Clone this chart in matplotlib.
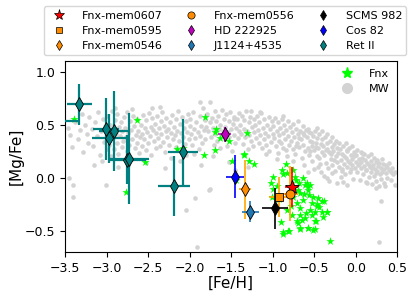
import numpy as np
import matplotlib
matplotlib.use('Agg')
import matplotlib.pyplot as plt
from matplotlib.lines import Line2D

# Milky Way comparison sample
mw_feh = [-3.47, -3.44, -3.42, -3.45, -3.41, -3.40, -3.38, -3.35, -3.32, -3.30, -3.28, -3.26, -3.24, -3.22, -3.21,
          -3.18, -3.16, -3.14, -3.12, -3.10, -3.08, -3.07, -3.05, -3.03, -3.02, -3.01, -3.00, -3.15, -3.06,
          -2.99, -2.98, -2.97, -2.96, -2.95, -2.94, -2.93, -2.92, -2.91, -2.90, -2.89, -2.88, -2.87, -2.86, -2.85, -2.84, -2.83, -2.82, -2.81, -2.80, -2.86, -2.90,
          -2.79, -2.78, -2.77, -2.76, -2.75, -2.74, -2.73, -2.72, -2.71, -2.70, -2.69, -2.68, -2.67, -2.66, -2.65, -2.64, -2.63, -2.62, -2.61, -2.60, -2.70, -2.74,
          -2.59, -2.58, -2.57, -2.56, -2.55, -2.54, -2.53, -2.52, -2.51, -2.50, -2.49, -2.48, -2.47, -2.46, -2.45, -2.44, -2.43, -2.42, -2.41, -2.40, -2.52, -2.45,
          -2.39, -2.38, -2.37, -2.36, -2.35, -2.34, -2.33, -2.32, -2.31, -2.30, -2.29, -2.28, -2.27, -2.26, -2.25, -2.24, -2.23, -2.22, -2.21, -2.20, -2.30, -2.36,
          -2.19, -2.18, -2.17, -2.16, -2.15, -2.14, -2.13, -2.12, -2.11, -2.10, -2.09, -2.08, -2.07, -2.06, -2.05, -2.04, -2.03, -2.02, -2.01, -2.00, -2.12, -2.05,
          -1.99, -1.98, -1.97, -1.96, -1.95, -1.94, -1.93, -1.92, -1.91, -1.90, -1.89, -1.88, -1.87, -1.86, -1.85, -1.84, -1.83, -1.82, -1.81, -1.80, -1.95, -1.86, -1.87,
          -1.79, -1.78, -1.77, -1.76, -1.75, -1.74, -1.73, -1.72, -1.71, -1.70, -1.69, -1.68, -1.67, -1.66, -1.65, -1.64, -1.63, -1.62, -1.61, -1.60, -1.76, -1.72,
          -1.59, -1.58, -1.57, -1.56, -1.55, -1.54, -1.53, -1.52, -1.51, -1.50, -1.49, -1.48, -1.47, -1.46, -1.45, -1.44, -1.43, -1.42, -1.41, -1.40, -1.52, -1.45, -1.47,
          -1.39, -1.38, -1.37, -1.36, -1.35, -1.34, -1.33, -1.32, -1.31, -1.30, -1.29, -1.28, -1.27, -1.26, -1.25, -1.24, -1.23, -1.22, -1.21, -1.20, -1.30, -1.26,
          -1.19, -1.18, -1.17, -1.16, -1.15, -1.14, -1.13, -1.12, -1.11, -1.10, -1.09, -1.08, -1.07, -1.06, -1.05, -1.04, -1.03, -1.02, -1.01, -1.00, -1.15, -1.08,
          -0.99, -0.98, -0.97, -0.96, -0.95, -0.94, -0.93, -0.92, -0.91, -0.90, -0.89, -0.88, -0.87, -0.86, -0.85, -0.84, -0.83, -0.82, -0.81, -0.80, -0.95, -0.88, -0.92, -0.84,
          -0.79, -0.78, -0.77, -0.76, -0.75, -0.74, -0.73, -0.72, -0.71, -0.70, -0.69, -0.68, -0.67, -0.66, -0.65, -0.64, -0.63, -0.62, -0.61, -0.60, -0.75, -0.68, -0.72, -0.64,
          -0.59, -0.58, -0.57, -0.56, -0.55, -0.54, -0.53, -0.52, -0.51, -0.50, -0.49, -0.48, -0.47, -0.46, -0.45, -0.44, -0.43, -0.42, -0.41, -0.40, -0.55, -0.48, -0.52, -0.44,
          -0.39, -0.38, -0.37, -0.36, -0.35, -0.34, -0.33, -0.32, -0.31, -0.30, -0.29, -0.28, -0.27, -0.26, -0.25, -0.24, -0.23, -0.22, -0.21, -0.20, -0.36, -0.30, -0.26,
          -0.19, -0.18, -0.17, -0.16, -0.15, -0.14, -0.13, -0.12, -0.11, -0.10, -0.09, -0.08, -0.07, -0.06, -0.05, -0.04, -0.03, -0.02, -0.01, 0.00, -0.14, -0.07,
          0.01, 0.02, 0.03, 0.04, 0.05, 0.06, 0.07, 0.08, 0.09, 0.10, 0.11, 0.12, 0.13, 0.14, 0.15, 0.16, 0.17, 0.18, 0.19, 0.20,
          0.21, 0.22, 0.23, 0.24, 0.25, 0.26, 0.27, 0.28, 0.29, 0.30, 0.31, 0.32, 0.33, 0.34, 0.36, 0.38, 0.40, 0.42, 0.45, 0.48, 0.30, 0.28,
          -0.58, -0.50, -0.45, -0.38, -0.35, -0.32, -0.28, -0.22, -0.18, -0.15, -0.12, -0.10, -0.05, 0.02, 0.06, 0.10, 0.14, 0.18, 0.22, 0.26,
          0.32, 0.36, 0.40, 0.44, 0.47, 0.35, 0.25, -0.62, -0.56, -0.46, -0.40, -0.34, -0.28, -0.24, -0.10, -0.02, 0.08, 0.12, 0.04, -0.06,
          -0.16, -0.20, -0.42, 0.16, 0.20, 0.24, 0.28, 0.34, 0.38, 0.42]
mw_mgfe = [0.47, 0.40, 0.29, 0.00, -0.07, -0.18, 0.52, 0.36, 0.45, 0.60, 0.24, 0.50, 0.41, 0.33, 0.57,
           0.46, 0.30, 0.52, 0.39, 0.62, 0.21, 0.44, 0.55, 0.34, 0.49, -0.07, 0.27, 0.12, 0.16,
           0.58, 0.42, 0.31, 0.50, 0.20, 0.63, 0.37, 0.46, 0.27, 0.54, 0.41, 0.33, 0.60, 0.22, 0.48, 0.39, 0.52, 0.29, 0.44, 0.35, 0.10, 0.66,
           0.57, 0.47, 0.38, 0.25, 0.62, 0.42, 0.31, 0.53, 0.45, 0.18, 0.36, 0.58, 0.49, 0.28, 0.40, 0.33, 0.55, 0.44, 0.23, 0.38, 0.65, 0.12,
           0.50, 0.41, 0.30, 0.59, 0.36, 0.47, 0.26, 0.54, 0.43, 0.33, 0.61, 0.39, 0.48, 0.21, 0.56, 0.45, 0.35, 0.51, 0.28, 0.42, 0.14, 0.66,
           0.58, 0.37, 0.47, 0.30, 0.53, 0.41, 0.62, 0.34, 0.49, 0.24, 0.44, 0.56, 0.38, 0.46, 0.31, 0.52, 0.42, 0.19, 0.59, 0.36, 0.09, 0.67,
           0.48, 0.40, 0.55, 0.29, 0.44, 0.63, 0.35, 0.51, 0.42, 0.26, 0.57, 0.38, 0.47, 0.32, 0.53, -0.30, 0.43, 0.60, 0.36, 0.49, 0.16, 0.21,
           0.55, 0.41, 0.31, 0.62, 0.46, 0.37, -0.19, 0.52, -0.65, 0.43, 0.27, 0.58, 0.39, 0.49, 0.33, 0.66, 0.45, 0.54, 0.36, 0.48, 0.22, 0.12, 0.71,
           0.60, 0.44, -0.12, 0.52, 0.71, 0.38, 0.56, 0.47, 0.31, 0.63, 0.41, 0.53, 0.35, 0.58, 0.46, 0.28, 0.50, 0.40, 0.64, 0.44, -0.11, 0.20,
           0.55, 0.36, 0.48, 0.60, 0.30, 0.43, 0.53, 0.38, 0.62, 0.46, 0.25, 0.51, 0.40, 0.57, 0.33, 0.47, 0.55, 0.37, 0.44, 0.61, 0.15, 0.07, 0.55,
           0.50, 0.41, 0.58, 0.32, 0.46, 0.54, 0.38, 0.63, 0.44, 0.27, 0.52, 0.40, 0.57, 0.35, 0.48, 0.30, 0.55, 0.43, 0.50, 0.37, 0.10, 0.63,
           0.58, 0.45, 0.33, 0.52, 0.40, 0.61, 0.28, 0.47, 0.36, 0.55, 0.42, 0.31, 0.50, 0.39, 0.57, 0.25, 0.46, 0.34, 0.53, 0.41, 0.62, 0.22,
           0.49, 0.37, 0.56, 0.30, 0.44, 0.52, 0.23, 0.40, 0.47, 0.33, 0.55, 0.42, 0.28, 0.50, 0.36, 0.45, 0.20, 0.53, 0.39, 0.31, 0.18, 0.58, 0.35, 0.26,
           0.48, 0.35, 0.43, 0.27, 0.51, 0.38, 0.22, 0.46, 0.33, 0.41, 0.53, 0.29, 0.44, 0.36, 0.19, 0.49, 0.31, 0.40, 0.25, 0.45, 0.16, 0.37, 0.30, 0.42,
           0.38, 0.28, 0.46, 0.21, 0.35, 0.42, 0.30, 0.16, 0.39, 0.26, 0.44, 0.33, 0.20, 0.37, 0.28, 0.41, 0.13, 0.32, 0.24, 0.36, 0.25, 0.29, 0.34, 0.19,
           0.30, 0.21, 0.38, 0.14, 0.27, 0.33, 0.09, 0.24, 0.35, 0.18, 0.29, 0.12, 0.25, 0.32, 0.06, 0.20, 0.28, 0.15, 0.23, 0.10, 0.26, 0.22, 0.17,
           0.27, 0.17, 0.08, 0.22, 0.30, 0.13, 0.03, 0.19, 0.25, 0.10, 0.16, 0.28, 0.05, 0.21, 0.12, 0.18, -0.01, 0.24, 0.09, 0.15, 0.20, 0.14,
           0.21, 0.05, 0.12, 0.18, -0.02, 0.09, 0.15, 0.23, 0.03, 0.11, 0.17, -0.04, 0.07, 0.14, 0.20, 0.01, 0.10, 0.16, 0.05, -0.06,
           0.12, 0.02, 0.08, 0.15, -0.03, 0.06, 0.11, -0.08, 0.03, 0.09, -0.01, 0.05, 0.13, -0.05, 0.04, 0.00, 0.07, -0.02, 0.03, -0.07, -0.22, -0.61,
           0.05, 0.08, 0.10, 0.02, 0.00, -0.03, 0.04, -0.05, 0.01, -0.04, 0.33, -0.07, 0.30, 0.26, 0.24, 0.22, -0.05, 0.22, 0.19, 0.17,
           0.18, 0.12, 0.14, 0.09, 0.05, -0.08, -0.10, 0.12, 0.43, 0.47, 0.44, 0.41, 0.38, 0.35, 0.26, 0.20, 0.19, 0.07, 0.13, 0.08,
           0.06, 0.33, 0.05, 0.12, 0.09, 0.04, 0.14, 0.08, 0.10, 0.05]

# Fornax stars
fnx_feh = [-3.39, -2.64, -2.54, -2.765, -2.155, -2.075, -1.83, -1.81, -1.70, -1.68, -1.64, -1.53, -1.70, -1.49, -1.44,
           -1.31, -1.34, -1.35, -1.28, -1.23,
           -0.84, -1.00, -1.02, -0.89, -0.87, -0.83, -0.75, -0.73, -0.68, -0.61, -0.55, -0.56, -0.51, -0.45, -0.67,
           -0.63, -0.71, -0.67, -0.55, -0.49, -0.41, -0.35, -0.53, -0.61, -0.71, -0.67, -0.57, -0.49, -0.51, -0.87,
           -0.80, -0.31, -0.99, -1.01, -0.75, -0.75, -0.63, -0.57, -0.41, -0.47, -0.67, -0.88, -0.81, -0.67, -0.57,
           -0.49, -0.48, -0.35, -0.39, -0.59, -0.78, -0.70, -0.62, -0.92, -0.95, -0.65, -0.53, -0.44, -0.60, -0.72,
           -0.83, -0.77, -0.69, -0.58, -0.46, -0.38, -0.90]
fnx_mgfe = [0.55, 0.54, 0.145, -0.135, 0.27, 0.28, 0.21, 0.57, 0.43, 0.46, 0.37, 0.35, 0.26, 0.16, -0.02,
            0.42, 0.21, 0.22, 0.16, 0.13,
            0.13, 0.007, -0.05, 0.075, 0.03, 0.04, 0.07, 0.01, -0.05, -0.07, -0.07, -0.16, -0.18, -0.19, -0.14,
            -0.21, -0.24, -0.29, -0.30, -0.32, -0.32, -0.32, -0.35, -0.38, -0.41, -0.47, -0.47, -0.41, -0.49, -0.51,
            -0.50, -0.60, -0.11, -0.18, -0.08, -0.18, 0.00, -0.08, -0.22, -0.25, -0.35, -0.53, -0.50, -0.48, -0.47,
            -0.48, -0.41, -0.32, -0.37, -0.05, -0.27, -0.12, -0.15, -0.20, -0.08, -0.40, -0.24, -0.28, -0.33, -0.02,
            -0.30, -0.35, -0.43, -0.12, -0.27, -0.22, -0.42]

# Ret II stars (first one sits just off the left edge)
ret_feh = [-3.65, -3.33, -3.006, -2.97, -2.906, -2.757, -2.725, -2.19, -2.075]
ret_mgfe = [0.53, 0.69, 0.46, 0.37, 0.44, 0.17, 0.18, -0.08, 0.24]
ret_xerr = [0.30, 0.15, 0.16, 0.21, 0.19, 0.23, 0.23, 0.19, 0.18]
ret_yerr = [0.20, 0.19, 0.29, 0.23, 0.38, 0.23, 0.43, 0.28, 0.31]

# individual stars: name, feh, mgfe, xerr, yerr
stars_name = ['Fnx-mem0607', 'Fnx-mem0595', 'Fnx-mem0546', 'Fnx-mem0556',
              'HD 222925', 'J1124+4535', 'SCMS 982', 'Cos 82']
stars_feh = [-0.77, -0.918, -1.33, -0.79, -1.58, -1.27, -0.97, -1.452]
stars_mgfe = [-0.09, -0.18, -0.11, -0.15, 0.41, -0.32, -0.29, 0.01]
stars_xerr = [0.08, 0.13, 0.07, 0.09, 0.08, 0.10, 0.16, 0.11]
stars_yerr = [0.19, 0.19, 0.28, 0.26, 0.07, 0.10, 0.19, 0.20]
stars_marker = ['*', 's', 'd', 'o', 'd', 'd', 'd', 'd']
stars_color = ['red', 'darkorange', 'darkorange', 'darkorange', 'm', '#1f77b4', 'k', 'b']
stars_ecolor = ['red', 'orange', 'orange', 'orange', 'm', '#1f77b4', 'k', 'b']
stars_ms = [10, 6, 7, 6.5, 7, 7, 7, 7]

fig = plt.figure(figsize=(4.15, 3.0), dpi=100)
ax = fig.add_axes([0.157, 0.16, 0.8, 0.637])

ax.scatter(mw_feh, mw_mgfe, s=11, c='lightgray', lw=0, zorder=1)
ax.scatter(fnx_feh, fnx_mgfe, s=38, marker='*', c='lime', lw=0, zorder=2)

ax.errorbar(ret_feh, ret_mgfe, xerr=ret_xerr, yerr=ret_yerr, fmt='d', color='teal',
            ecolor='teal', elinewidth=1.6, ms=7, mec='k', mew=0.6, capsize=0, zorder=3)

for i in range(len(stars_name)):
    ax.errorbar(stars_feh[i], stars_mgfe[i], xerr=stars_xerr[i], yerr=stars_yerr[i],
                fmt=stars_marker[i], color=stars_color[i], ecolor=stars_ecolor[i],
                elinewidth=1.2, ms=stars_ms[i], mec='k', mew=0.6, capsize=0, zorder=4)

ax.set_xlim(-3.5, 0.5)
ax.set_ylim(-0.7, 1.1)
ax.set_xticks(np.arange(-3.5, 0.51, 0.5))
ax.set_yticks([-0.5, 0.0, 0.5, 1.0])
ax.tick_params(labelsize=9)
ax.set_xlabel('[Fe/H]', fontsize=11, labelpad=1)
ax.set_ylabel('[Mg/Fe]', fontsize=11, labelpad=1)

# inner legend
inner = [Line2D([], [], ls='none', marker='*', ms=8, color='lime', label='Fnx'),
         Line2D([], [], ls='none', marker='o', ms=7, color='lightgray', label='MW')]
leg1 = ax.legend(handles=inner, loc='upper right', frameon=False, fontsize=8,
                 handletextpad=1.0, borderaxespad=0.3)
ax.add_artist(leg1)

# top legend (column-first order)
top = []
for i in range(8):
    top.append(Line2D([], [], ls='none', marker=stars_marker[i], ms=stars_ms[i] * 0.8,
                      color=stars_color[i], mec='k', mew=0.5, label=stars_name[i]))
top.append(Line2D([], [], ls='none', marker='d', ms=5.6, color='teal', mec='k', mew=0.5,
                  label='Ret II'))
ax.legend(handles=top, ncol=3, loc='lower center', bbox_to_anchor=(0.482, 1.0),
          fontsize=8, handletextpad=1.0, columnspacing=1.6, labelspacing=0.45)

fig.savefig('out.png', dpi=100)
